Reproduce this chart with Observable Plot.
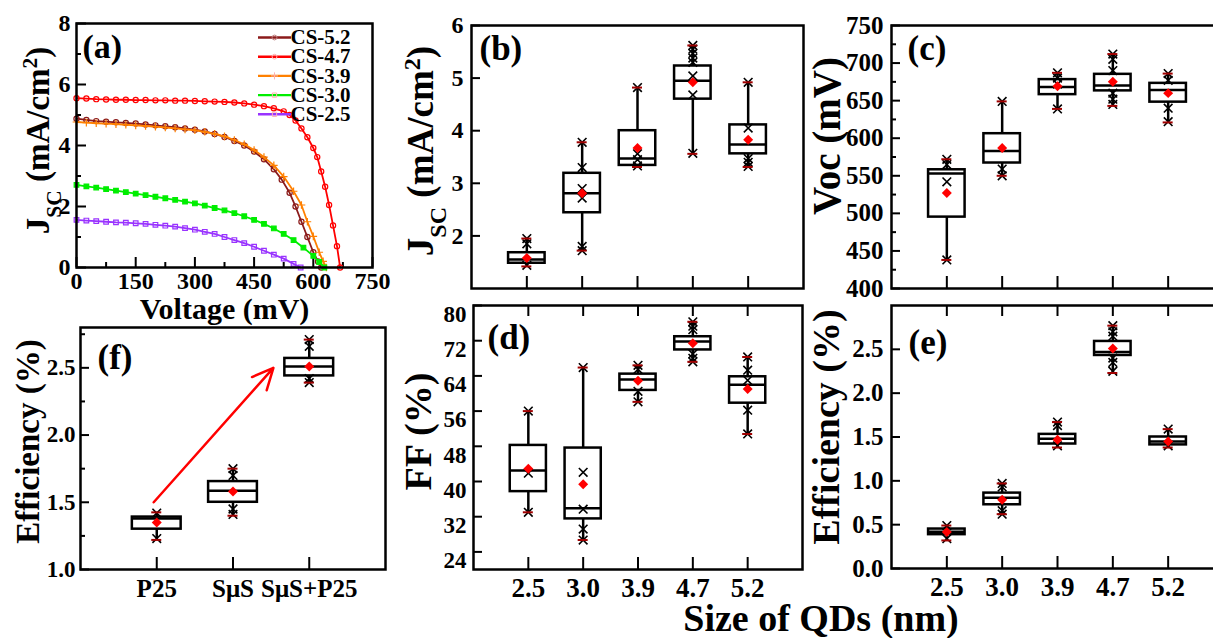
<!DOCTYPE html>
<html><head><meta charset="utf-8">
<script src="https://cdn.jsdelivr.net/npm/d3@7"></script>
<script src="https://cdn.jsdelivr.net/npm/@observablehq/plot@0.6"></script>
<style>
html,body{margin:0;padding:0;overflow:hidden;background:#fff;}
#root{position:relative;width:1213px;height:638px;overflow:hidden;background:#fff;}
#xtitle{position:absolute;left:521px;width:600px;top:598px;text-align:center;font-family:'Liberation Serif','Times New Roman',Times,serif;font-weight:bold;font-size:38px;line-height:40px;color:#000;}
</style></head><body><div id="root"><div id="xtitle">Size of QDs (nm)</div></div>
<script>
const FONT = "'Liberation Serif','Times New Roman',Times,serif";

// ---------- (a) J-V curves ----------
const jvSeries = ["CS-5.2", "CS-4.7", "CS-3.9", "CS-3.0", "CS-2.5"];
const jvColors = ["#8b1a1a", "#ff0000", "#ff8000", "#00ee00", "#9933ff"];
const v52 = [0,25,50,75,100,125,150,175,200,225,250,275,300,325,350,375,400,425,450,475,500,520,540,555,570,585,600,612,620];
const j52 = [4.88,4.84,4.80,4.78,4.76,4.74,4.72,4.69,4.66,4.63,4.60,4.56,4.52,4.46,4.38,4.28,4.15,4.00,3.80,3.55,3.22,2.88,2.45,2.0,1.5,1.0,0.5,0.2,0];
const v47 = [0,25,50,75,100,125,150,175,200,225,250,275,300,325,350,375,400,425,450,475,500,525,540,555,570,585,600,610,620,630,640,650,660,668];
const j47 = [5.55,5.54,5.52,5.51,5.50,5.50,5.49,5.49,5.48,5.48,5.47,5.47,5.46,5.45,5.44,5.43,5.41,5.38,5.34,5.29,5.22,5.12,5.0,4.82,4.56,4.27,3.92,3.62,3.15,2.65,2.05,1.38,0.7,0];
const v39 = [0,25,50,75,100,125,150,175,200,225,250,275,300,325,350,375,400,425,450,475,500,525,550,570,585,600,615,625,633];
const j39 = [4.77,4.75,4.73,4.72,4.70,4.68,4.66,4.64,4.62,4.59,4.56,4.53,4.50,4.45,4.38,4.30,4.18,4.04,3.85,3.62,3.35,2.98,2.50,2.05,1.5,1.02,0.5,0.2,0];
const v30 = [0,25,50,75,100,125,150,175,200,225,250,275,300,325,350,375,400,425,450,475,500,525,550,575,600,615,628];
const j30 = [2.71,2.66,2.62,2.57,2.52,2.47,2.42,2.37,2.32,2.27,2.22,2.16,2.10,2.03,1.95,1.87,1.78,1.68,1.56,1.43,1.28,1.10,0.90,0.65,0.38,0.18,0];
const v25 = [0,25,50,75,100,125,150,175,200,225,250,275,300,325,350,375,400,425,450,475,500,525,550,568];
const j25 = [1.56,1.54,1.52,1.50,1.48,1.47,1.45,1.43,1.40,1.37,1.34,1.29,1.24,1.17,1.10,1.00,0.90,0.80,0.68,0.55,0.42,0.29,0.12,0];
const jvV = [v52, v47, v39, v30, v25];
const jvJ = [j52, j47, j39, j30, j25];
const jvTicksX = [0,150,300,450,600,750];
const jvMinorX = [75,225,375,525,675];
const jvTicksY = [0,2,4,6,8];
const jvMinorY = [1,3,5,7];

// ---------- box panels (b)-(e) ----------
const sizes = ["2.5", "3.0", "3.9", "4.7", "5.2"];
// (b) Jsc
const jscLow = [1.42, 1.72, 3.31, 3.56, 3.31];
const jscQ1 = [1.48, 2.44, 3.34, 4.60, 3.56];
const jscMed = [1.55, 2.81, 3.47, 4.95, 3.74];
const jscQ3 = [1.68, 3.19, 4.00, 5.23, 4.11];
const jscHigh = [1.95, 3.78, 4.82, 5.62, 4.92];
const jscMean = [1.58, 2.81, 3.67, 4.92, 3.83];
const jscCross = [[1.95, 1.85, 1.44], [3.78, 3.30, 2.90, 2.72, 1.80, 1.72], [4.82, 3.56, 3.45, 3.33], [5.62, 5.55, 5.47, 5.38, 5.30, 5.04, 4.68, 3.57], [4.92, 4.05, 3.47, 3.40, 3.32]];
// (c) Voc
const vocLow = [438, 550, 639, 643, 621];
const vocQ1 = [495, 567, 658, 663, 648];
const vocMed = [553, 583, 668, 670, 664];
const vocQ3 = [558, 606, 678, 685, 673];
const vocHigh = [572, 649, 687, 712, 686];
const vocMean = [527, 587, 669, 675, 660];
const vocCross = [[572, 565, 542, 438], [649, 559, 550], [687, 680, 672, 639], [712, 705, 690, 660, 652, 645], [686, 677, 640, 622]];
// (d) FF
const ffLow = [33.0, 26.7, 58.1, 67.2, 50.8];
const ffQ1 = [37.7, 31.5, 60.7, 69.9, 57.8];
const ffMed = [42.5, 33.9, 63.2, 71.8, 62.0];
const ffQ3 = [48.2, 47.6, 64.4, 72.9, 63.8];
const ffHigh = [56.0, 65.9, 66.4, 76.3, 68.3];
const ffMean = [42.9, 39.4, 62.9, 71.4, 61.0];
const ffCross = [[56.0, 41.9, 33.0], [65.9, 42.1, 33.7, 29.2, 26.7], [66.4, 65.5, 60.5, 58.1], [76.3, 75.3, 74.5, 69.0, 68.0, 67.2], [68.3, 65.3, 63.0, 56.2, 50.8]];
// (e) Efficiency
const effLow = [0.32, 0.62, 1.38, 2.23, 1.38];
const effQ1 = [0.386, 0.727, 1.42, 2.43, 1.41];
const effMed = [0.42, 0.807, 1.48, 2.47, 1.45];
const effQ3 = [0.45, 0.86, 1.53, 2.59, 1.50];
const effHigh = [0.49, 0.97, 1.67, 2.77, 1.59];
const effMean = [0.417, 0.784, 1.47, 2.51, 1.45];
const effCross = [[0.49, 0.34], [0.97, 0.93, 0.66, 0.62], [1.67, 1.63, 1.40], [2.77, 2.70, 2.65, 2.40, 2.35, 2.25], [1.59, 1.40]];
// (f) Efficiency by photoanode
const anodes = ["P25", "SμS", "SμS+P25"];
const fLow = [1.22, 1.40, 2.39];
const fQ1 = [1.30, 1.50, 2.44];
const fMed = [1.38, 1.585, 2.51];
const fQ3 = [1.39, 1.654, 2.57];
const fHigh = [1.425, 1.75, 2.71];
const fMean = [1.35, 1.58, 2.51];
const fCross = [[1.42, 1.23], [1.75, 1.70, 1.45, 1.41], [2.71, 2.66, 2.42, 2.39]];
const fArrow = [{x1: -0.04, y1: 1.5, x2: 1.53, y2: 2.5}];

function baseStyle(size) {
  return {background: "transparent", fontFamily: FONT, fontWeight: "bold", fontSize: size + "px", color: "black", overflow: "visible", maxWidth: "none"};
}

function richLabels(svg) {
  svg.querySelectorAll("text").forEach(t => {
    if (t.textContent === "JSC (mA/cm2)") {
      t.innerHTML = 'J<tspan baseline-shift="sub" font-size="65%">SC</tspan><tspan> (mA/cm</tspan><tspan baseline-shift="super" font-size="65%">2</tspan><tspan>)</tspan>';
    }
  });
  return svg;
}

const root = document.getElementById("root");
function place(el, left, top) {
  el.style.position = "absolute";
  el.style.left = left + "px";
  el.style.top = top + "px";
  root.appendChild(el);
}

function yTitle(text, dx, dy, size) {
  return Plot.text([text], {frameAnchor: "left", textAnchor: "middle", lineAnchor: "middle", rotate: -90, dx, dy, fontSize: size, text: d => d});
}
function tagText(text, dx, dy, size) {
  return Plot.text([text], {frameAnchor: "top-left", textAnchor: "start", lineAnchor: "middle", dx, dy, fontSize: size, text: d => d});
}

// ---------- panel (a) ----------
function panelA() {
  const W = 296, H = 244, ml = 76, mt = 23, mr = 12, mb = 60;
  const xd = [0, 750], yd = [0, 8];
  const kx = (xd[1] - xd[0]) / W, ky = (yd[1] - yd[0]) / H;
  const syms = ["circle", "circle", "plus", "square", "square"];
  const fills = ["none", "none", "none", jvColors[3], "none"];
  const lineSym = {draw(ctx) { ctx.moveTo(-16.5, 0); ctx.lineTo(16.5, 0); }};
  const marks = [
    Plot.ruleY(jvTicksY, {y: d => d, x1: xd[0], x2: xd[0] + 10 * kx, stroke: "black", strokeWidth: 2}),
    Plot.ruleY(jvMinorY, {y: d => d, x1: xd[0], x2: xd[0] + 5 * kx, stroke: "black", strokeWidth: 2}),
    Plot.ruleX(jvTicksX, {x: d => d, y1: yd[0], y2: yd[0] + 10 * ky, stroke: "black", strokeWidth: 2}),
    Plot.ruleX(jvMinorX, {x: d => d, y1: yd[0], y2: yd[0] + 5 * ky, stroke: "black", strokeWidth: 2})
  ];
  jvSeries.forEach((s, si) => {
    const rows = jvV[si].map((v, k) => ({v, j: jvJ[si][k]}));
    marks.push(Plot.line(rows, {x: "v", y: "j", stroke: jvColors[si], strokeWidth: 1.8}));
    marks.push(Plot.dot(rows, {x: "v", y: "j", symbol: syms[si], r: 2.6, stroke: jvColors[si], fill: fills[si], strokeWidth: 1.2}));
  });
  jvSeries.forEach((s, i) => {
    const dy = 14 + 19.2 * i;
    marks.push(Plot.dot([s], {frameAnchor: "top-right", dx: -98, dy, symbol: lineSym, stroke: jvColors[i], fill: "none", strokeWidth: 2.4}));
    marks.push(Plot.dot([s], {frameAnchor: "top-right", dx: -98, dy, symbol: syms[i], r: 2.4, stroke: i === 0 ? "#c08080" : "#ffb0b0", fill: "none", strokeWidth: 1}));
    marks.push(Plot.text([s], {frameAnchor: "top-right", dx: -82, dy, textAnchor: "start", lineAnchor: "middle", fontSize: 21, text: d => d}));
  });
  marks.push(
    Plot.frame({stroke: "black", strokeWidth: 2.5}),
    Plot.axisY({ticks: jvTicksY, tickSize: 0, tickPadding: 6, label: null, fontSize: 24}),
    Plot.axisX({ticks: jvTicksX, tickSize: 0, tickPadding: 4, label: null, fontSize: 24}),
    Plot.text(["Voltage (mV)"], {frameAnchor: "bottom", lineAnchor: "middle", textAnchor: "middle", dy: 42, fontSize: 30, text: d => d}),
    yTitle("JSC (mA/cm2)", -38, -5, 33),
    tagText("(a)", 6, 24, 34)
  );
  return richLabels(Plot.plot({
    width: ml + W + mr, height: mt + H + mb, marginLeft: ml, marginRight: mr, marginTop: mt, marginBottom: mb,
    x: {domain: xd}, y: {domain: yd}, style: baseStyle(24), marks
  }));
}

// ---------- generic box panel ----------
function boxPanel(c) {
  const n = c.cats.length, xd = [-1, n], yd = c.yDomain;
  const kx = (xd[1] - xd[0]) / c.W, ky = (yd[1] - yd[0]) / c.H;
  const idx = c.cats.map((_, i) => i);
  const rows = idx.map(i => ({i, low: c.low[i], q1: c.q1[i], med: c.med[i], q3: c.q3[i], high: c.high[i], mean: c.mean[i]}));
  const pts = idx.flatMap(i => c.crosses[i].map(v => ({i, v})));
  const ends = rows.flatMap(r => [{i: r.i, v: r.low}, {i: r.i, v: r.high}]);
  const marks = [
    Plot.ruleY(c.yLabels, {y: d => d, x1: xd[0], x2: xd[0] + 9 * kx, stroke: "black", strokeWidth: 2}),
    Plot.ruleY(c.yMinor || [], {y: d => d, x1: xd[0], x2: xd[0] + 5 * kx, stroke: "black", strokeWidth: 2}),
    Plot.ruleX(idx, {x: d => d, y1: yd[0], y2: yd[0] + 12 * ky, stroke: "black", strokeWidth: 2})
  ];
  if (c.topTicks) marks.push(Plot.ruleX(idx, {x: d => d, y1: yd[1], y2: yd[1] - 11 * ky, stroke: "black", strokeWidth: 2}));
  if (c.arrow) marks.push(Plot.arrow(c.arrow, {x1: "x1", y1: "y1", x2: "x2", y2: "y2", stroke: "#ff0000", strokeWidth: 2.5, headLength: 14, headAngle: 50}));
  marks.push(
    Plot.ruleX(rows, {x: "i", y1: "low", y2: "q1", stroke: "black", strokeWidth: 2.5}),
    Plot.ruleX(rows, {x: "i", y1: "q3", y2: "high", stroke: "black", strokeWidth: 2.5}),
    Plot.rect(rows, {x1: d => d.i - c.hw, x2: d => d.i + c.hw, y1: "q1", y2: "q3", fill: "white", stroke: "black", strokeWidth: 2.5}),
    Plot.ruleY(rows, {y: "med", x1: d => d.i - c.hw, x2: d => d.i + c.hw, stroke: "black", strokeWidth: 2.5}),
    Plot.dot(pts, {x: "i", y: "v", symbol: "times", r: 4, stroke: "black", fill: "none", strokeWidth: 1.6}),
    Plot.ruleY(ends, {y: "v", x1: d => d.i - 5 * kx, x2: d => d.i + 5 * kx, stroke: "#a00000", strokeWidth: 2}),
    Plot.dot(rows, {x: "i", y: "mean", symbol: "diamond2", r: 4.5, fill: "#ff0000", stroke: "none"}),
    Plot.frame({stroke: "black", strokeWidth: 2.5}),
    Plot.axisY({ticks: c.yLabels, tickSize: 0, tickPadding: c.yPad, tickFormat: c.yFormat, label: null, fontSize: c.yFont, dy: c.yDy || 0}),
    yTitle(c.title, c.titleDx, c.titleDy, c.titleSize),
    tagText(c.tag, c.tagDx, c.tagDy, 35)
  );
  if (c.xLabels) marks.push(Plot.axisX({ticks: idx, tickSize: 0, tickPadding: c.xPad || 8, tickFormat: i => c.cats[i], label: null, fontSize: c.xFont}));
  const xOpts = c.xLabels ? {domain: xd} : {domain: xd, axis: null};
  return richLabels(Plot.plot({
    width: c.ml + c.W + c.mr, height: c.mt + c.H + c.mb,
    marginLeft: c.ml, marginRight: c.mr, marginTop: c.mt, marginBottom: c.mb,
    x: xOpts, y: {domain: yd}, style: baseStyle(23), marks
  }));
}

const f1 = d3.format(".1f");

place(panelA(), 0, 0);

place(boxPanel({
  cats: sizes, low: jscLow, q1: jscQ1, med: jscMed, q3: jscQ3, high: jscHigh, mean: jscMean, crosses: jscCross,
  yDomain: [1, 6], yLabels: [2, 3, 4, 5, 6], yFormat: d => String(d), yPad: 8, yFont: 24,
  W: 332, H: 263, ml: 90, mt: 25, mr: 5, mb: 12, hw: 0.33,
  title: "JSC (mA/cm2)", titleDx: -50, titleDy: -6, titleSize: 37, tag: "(b)", tagDx: 8, tagDy: 23
}), 381, 0);

place(boxPanel({
  cats: sizes, low: vocLow, q1: vocQ1, med: vocMed, q3: vocQ3, high: vocHigh, mean: vocMean, crosses: vocCross,
  yDomain: [400, 750], yLabels: [400, 450, 500, 550, 600, 650, 700, 750], yMinor: [425, 475, 525, 575, 625, 675, 725], yFormat: d => String(d), yPad: 8, yFont: 25,
  W: 332, H: 263, ml: 90, mt: 25, mr: 5, mb: 12, hw: 0.33,
  title: "Voc (mV)", titleDx: -64, titleDy: -21, titleSize: 39, tag: "(c)", tagDx: 16, tagDy: 23
}), 801, 0);

place(boxPanel({
  cats: sizes, low: ffLow, q1: ffQ1, med: ffMed, q3: ffQ3, high: ffHigh, mean: ffMean, crosses: ffCross,
  yDomain: [20, 80], yLabels: [24, 32, 40, 48, 56, 64, 72, 80], yFormat: d => String(d), yPad: 7, yDy: 9, yFont: 23,
  W: 329, H: 264, ml: 90, mt: 12, mr: 5, mb: 45, hw: 0.33, topTicks: true, xLabels: true, xFont: 27,
  title: "FF (%)", titleDx: -55, titleDy: -6, titleSize: 38, tag: "(d)", tagDx: 14, tagDy: 32
}), 383, 293);

place(boxPanel({
  cats: sizes, low: effLow, q1: effQ1, med: effMed, q3: effQ3, high: effHigh, mean: effMean, crosses: effCross,
  yDomain: [0, 3], yLabels: [0, 0.5, 1, 1.5, 2, 2.5], yFormat: f1, yPad: 8, yFont: 25,
  W: 332, H: 263, ml: 90, mt: 12, mr: 5, mb: 45, hw: 0.33, topTicks: true, xLabels: true, xFont: 27,
  title: "Efficiency (%)", titleDx: -65, titleDy: -10, titleSize: 38, tag: "(e)", tagDx: 17, tagDy: 37
}), 801, 293);

place(boxPanel({
  cats: anodes, low: fLow, q1: fQ1, med: fMed, q3: fQ3, high: fHigh, mean: fMean, crosses: fCross,
  yDomain: [1, 2.8], yLabels: [1, 1.5, 2, 2.5], yMinor: [1.25, 1.75, 2.25, 2.75], yFormat: f1, yPad: 5, yFont: 23,
  W: 305, H: 242, ml: 80, mt: 12, mr: 5, mb: 45, hw: 0.32, xLabels: true, xPad: 10, xFont: 25, arrow: fArrow,
  title: "Efficiency (%)", titleDx: -52, titleDy: -7, titleSize: 33, tag: "(f)", tagDx: 17, tagDy: 30
}), 0, 315);
</script></body></html>
